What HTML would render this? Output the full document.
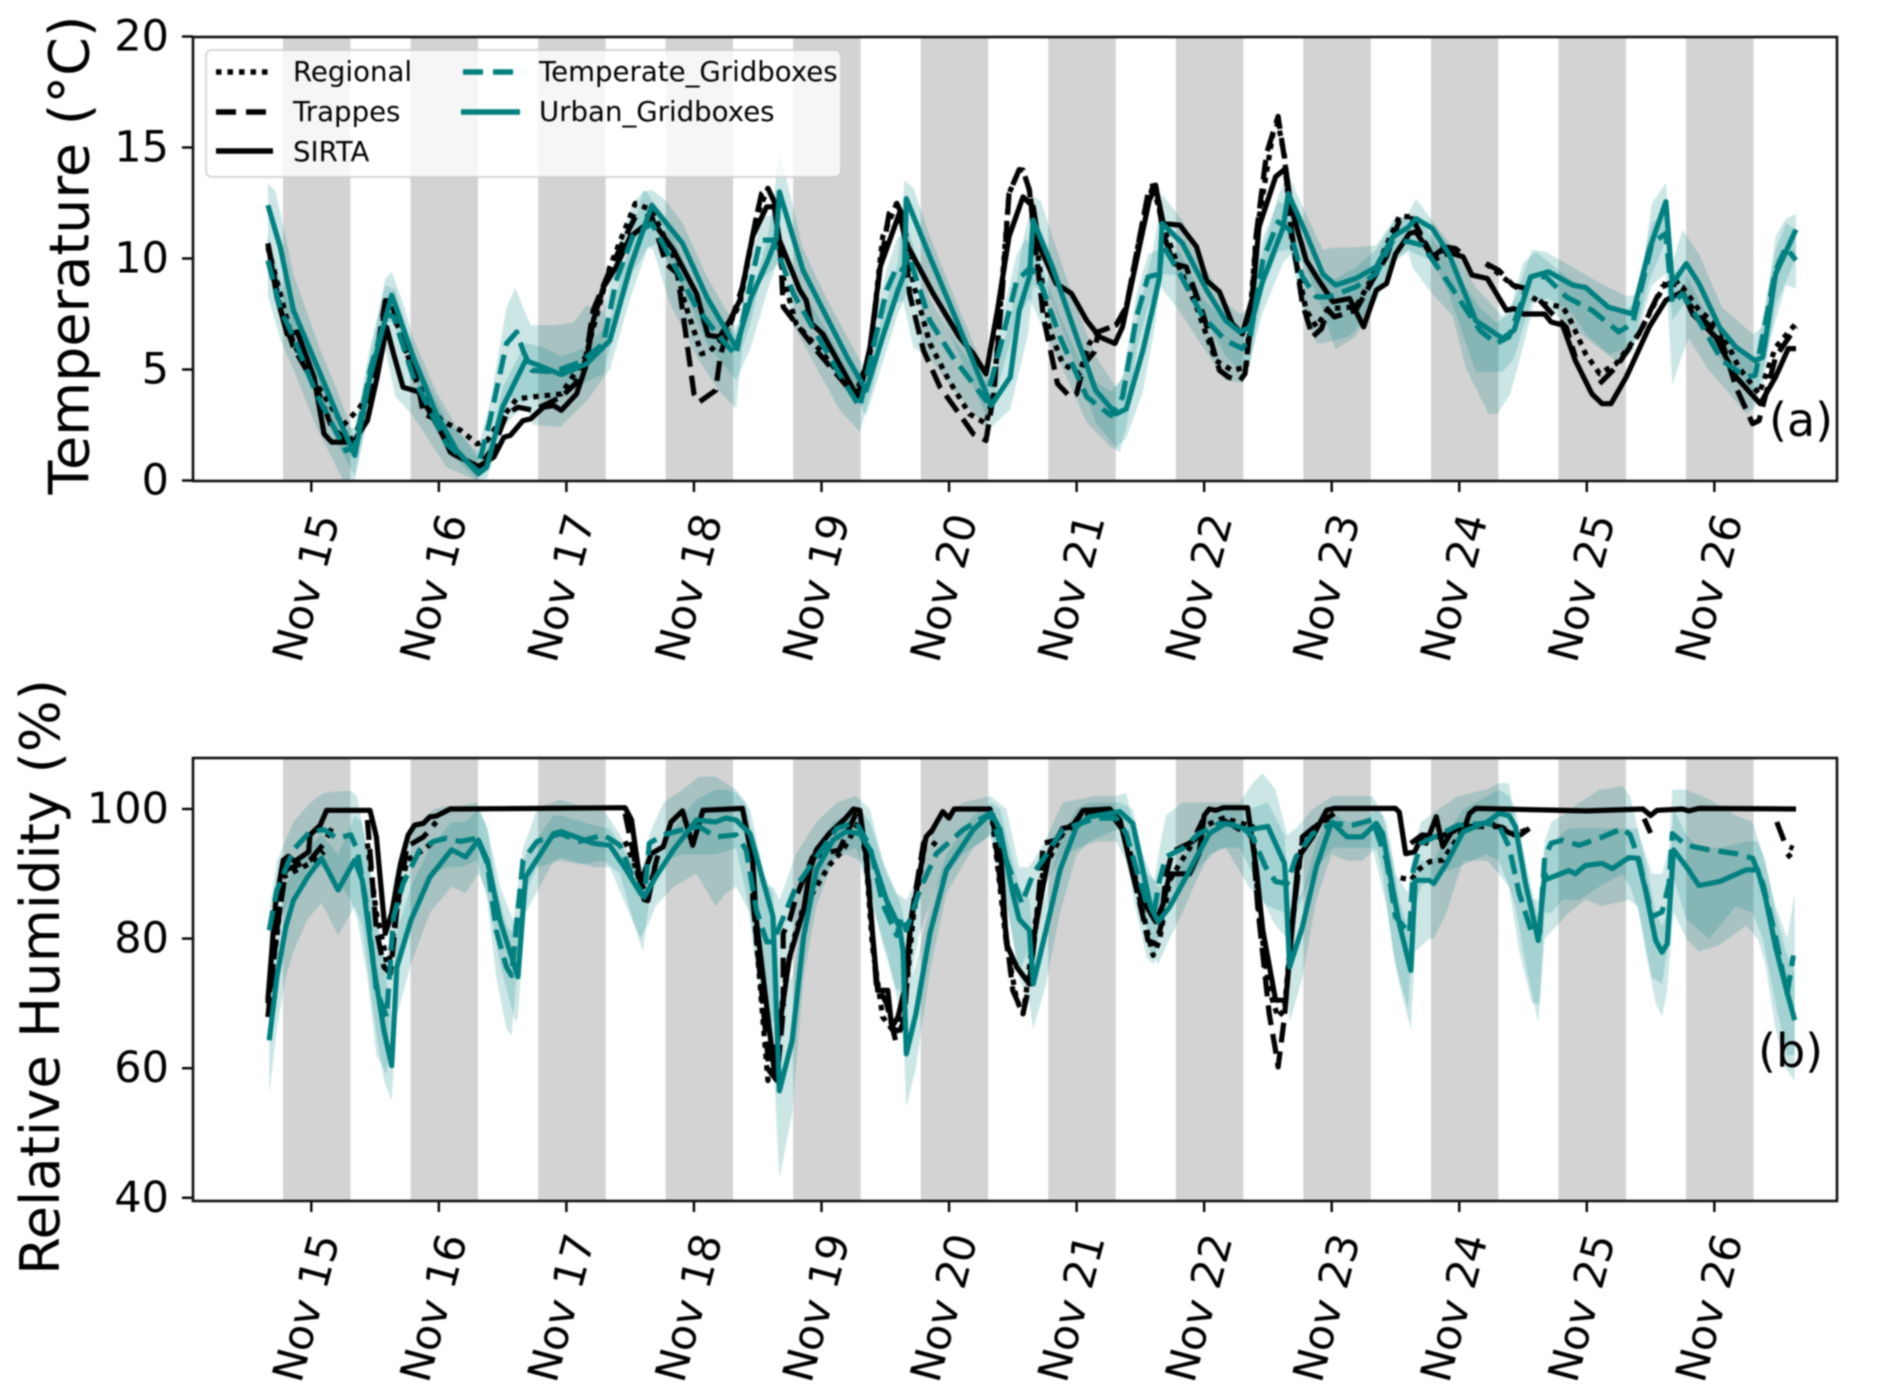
<!DOCTYPE html>
<html lang="en">
<head>
<meta charset="utf-8">
<title>Temperature and relative humidity, Nov 15-26</title>
<style>
html,body{margin:0;padding:0;background:#fff;width:1892px;height:1399px;overflow:hidden}
svg{display:block;filter:blur(0.7px)}
text{font-family:"DejaVu Sans","Liberation Sans",sans-serif;fill:#000}
</style>
</head>
<body>
<svg id="figure" xmlns="http://www.w3.org/2000/svg" width="1892" height="1399" viewBox="0 0 1892 1399">
  <g id="panelA"></g>
  <g id="panelB"></g>
  <g id="legend">
    <rect x="206" y="50" width="635" height="127" rx="6" fill="#fff" fill-opacity="0.8" stroke="#ccc" stroke-opacity="0.8" stroke-width="2"/>
    <line x1="216" y1="72" x2="270" y2="72" stroke="#000" stroke-width="5.4" stroke-dasharray="5.5 6"/>
    <text x="293" y="81" font-size="27.6">Regional</text>
    <line x1="216" y1="112" x2="270" y2="112" stroke="#000" stroke-width="5.4" stroke-dasharray="20 10"/>
    <text x="293" y="121" font-size="27.6">Trappes</text>
    <line x1="216" y1="151" x2="273" y2="151" stroke="#000" stroke-width="5.4"/>
    <text x="293" y="161" font-size="27.6">SIRTA</text>
    <line x1="463" y1="72" x2="518" y2="72" stroke="#008080" stroke-width="5.4" stroke-dasharray="20 10"/>
    <text x="539" y="81" font-size="27.6">Temperate_Gridboxes</text>
    <line x1="461" y1="112" x2="520" y2="112" stroke="#008080" stroke-width="5.4"/>
    <text x="539" y="121" font-size="27.6">Urban_Gridboxes</text>
  </g>
</svg>
<script>
const dayTicks = [15,16,17,18,19,20,21,22,23,24,25,26];
const dayLabels = ['Nov 15','Nov 16','Nov 17','Nov 18','Nov 19','Nov 20','Nov 21','Nov 22','Nov 23','Nov 24','Nov 25','Nov 26'];
const nightCentres = [15,16,17,18,19,20,21,22,23,24,25,26];
const tempTicks = [0,5,10,15,20];
const rhTicks = [40,60,80,100];

const tempRegional = [[14.66,10.5],[14.86,6.17],[15.04,4.36],[15.25,2.48],[15.36,3.16],[15.46,3.9],[15.58,7.82],[15.645,7.5],[15.83,4.36],[16.02,2.7],[16.17,2.26],[16.3,1.65],[16.38,1.8],[16.48,2.7],[16.61,3.68],[16.73,3.76],[16.96,3.9],[17.15,5.56],[17.34,9.62],[17.54,12.48],[17.67,12.18],[17.84,10.08],[17.93,7.97],[18.06,5.71],[18.12,5.79],[18.23,6.47],[18.36,7.97],[18.49,11.88],[18.58,13.16],[18.63,12.56],[18.7,9.17],[18.8,7.07],[18.99,5.86],[19.27,3.9],[19.38,5.71],[19.48,10.98],[19.59,12.48],[19.64,11.88],[19.72,8.87],[19.85,6.17],[20,4.5],[20.16,3],[20.29,2.56],[20.35,3.9],[20.47,12.93],[20.55,14],[20.58,13.98],[20.63,13.08],[20.71,9.62],[20.79,6.77],[20.89,5.26],[21.02,4.81],[21.1,6.17],[21.17,6.7],[21.31,7],[21.39,7.82],[21.52,11.73],[21.6,13.3],[21.68,11.43],[21.78,9.92],[21.94,7.82],[22.09,5.41],[22.22,4.96],[22.33,5.11],[22.41,11.13],[22.54,15.64],[22.58,16.09],[22.63,14.6],[22.69,10.68],[22.8,7.67],[22.88,6.92],[22.97,7.74],[23.19,7.82],[23.32,9.17],[23.53,11.9],[23.63,11.88],[23.79,9.92],[23.97,10.38],null,[24.21,9.77],[24.42,8.8],[24.65,7.97],[24.81,7.82],[24.86,7.37],[24.99,5.71],[25.1,4.81],[25.23,5.26],[25.41,6.62],[25.62,8.95],[25.75,8.72],[25.88,7.67],[26.04,6.92],[26.19,5.11],[26.35,3.9],[26.48,6],[26.64,7.07]];
const tempTrappes = [[14.66,10.68],[14.76,7.67],[14.86,6],[15.04,4.2],[15.16,2.4],[15.28,1.8],[15.34,1.95],[15.46,3.9],[15.58,8.1],[15.63,8.1],[15.68,6.77],[15.83,4.5],[15.88,3],[15.97,2.78],[16.09,1.28],[16.31,0.6],[16.43,1.5],[16.53,3],[16.62,3.3],[16.74,3.16],[16.96,3.76],[17.07,4.36],[17.15,5.41],[17.21,7.67],[17.34,9.47],[17.45,10.83],[17.54,11.88],[17.67,11.88],[17.78,9.77],[17.87,9.32],[17.91,7.67],[18,3.9],[18.04,3.53],[18.17,4.06],[18.21,5.71],[18.31,7.5],[18.38,8.72],[18.49,11.88],[18.53,12.93],[18.58,13.16],[18.63,12.56],[18.68,10.08],[18.7,7.82],[18.8,7.07],[18.96,5.86],[19.25,3.9],[19.31,3.76],[19.38,5.71],[19.46,9.62],[19.53,12.03],[19.59,12.48],[19.64,11.88],[19.69,8.42],[19.8,5.86],[19.93,4.2],[20.08,3],[20.19,2.1],[20.29,1.8],[20.35,3.9],[20.42,8.72],[20.47,12.93],[20.55,14],[20.58,13.98],[20.63,13.08],[20.68,10.38],[20.74,7.37],[20.85,4.36],[20.95,3.76],[21,3.9],[21.06,5.26],[21.14,5.8],[21.17,6.7],[21.31,7],[21.39,7.82],[21.52,11.73],[21.57,13.23],[21.62,13.3],[21.68,11.13],[21.76,9.77],[21.86,9.62],[21.99,7.52],[22.12,4.96],[22.19,4.66],[22.28,4.5],[22.32,4.81],[22.36,6.77],[22.41,11.13],[22.49,14.74],[22.58,16.4],[22.63,14.5],[22.68,11.43],[22.77,7.97],[22.85,6.47],[22.92,6.84],[22.97,7.7],[23.02,7.37],[23.19,7.67],[23.32,9.02],[23.43,10.08],[23.53,11.7],[23.63,11.8],[23.71,10.98],[23.79,10.08],[23.87,10.53],[23.97,10.45],[24.05,10.08],null,[24.21,9.77],[24.31,9.47],[24.42,8.8],[24.52,8.65],null,[24.63,8.12],[24.73,7.5],[24.84,6.9],[24.91,5.56],null,[25.1,4.36],[25.23,5.11],[25.41,6.62],[25.59,8.72],[25.7,9.02],[25.78,8.12],[25.88,7.37],[26.04,6.62],[26.17,4.2],[26.3,2.56],[26.35,2.7],[26.48,5.56],[26.64,6.92]];
const tempSirta = [[14.66,10.68],[14.73,8.27],[14.81,6.6],[14.89,6.69],[15.02,4.66],[15.1,2.1],[15.16,1.73],[15.33,1.73],[15.44,2.7],[15.51,4.5],[15.59,6.9],[15.645,5.7],[15.72,4.2],[15.84,4],[15.98,2.55],[16.11,1.2],[16.31,0.63],[16.43,1.05],[16.51,1.95],[16.56,2.03],[16.66,2.7],[16.72,2.78],[16.82,3.3],[16.9,3.38],[16.96,3.16],[17.08,3.9],[17.15,5.1],[17.21,7.2],[17.29,8.7],[17.39,9.62],[17.5,10.98],[17.67,11.73],[17.84,10.38],[18.02,8.42],[18.11,6.54],[18.2,6.47],[18.28,7.2],[18.36,8.12],[18.46,11],[18.57,12.33],[18.63,12.33],[18.67,10.83],[18.83,8.57],[18.88,8.12],[18.92,7.07],[19.01,6.6],[19.27,3.9],[19.31,4.2],[19.38,6],[19.46,9.62],[19.61,12.03],[19.665,10.68],[19.875,8.42],[20.08,6.47],[20.19,5.71],[20.29,4.8],[20.38,7.67],[20.47,10.98],[20.58,12.78],[20.66,12.33],[20.71,10.53],[20.84,8.87],[20.96,8.42],[21.08,7.2],[21.18,6.47],[21.3,6.17],[21.36,6.92],[21.47,9.92],[21.57,12.63],[21.62,13.23],[21.68,11.58],[21.81,11.5],[21.94,10.53],[22.02,9],[22.12,8.5],[22.22,7.07],[22.3,6.6],[22.38,8.27],[22.43,11.43],[22.56,13.68],[22.64,14.06],[22.68,12.33],[22.8,9.92],[22.9,9],[23.01,8.05],[23.14,8.2],[23.25,6.92],[23.35,8.57],[23.43,8.87],[23.5,10.2],[23.61,11.13],[23.66,11.2],[23.79,10.08],[23.86,10.38],[24.03,10.08],[24.1,9.25],[24.22,9.1],[24.37,7.67],[24.43,7.74],[24.5,7.5],[24.67,7.5],[24.72,7.14],[24.81,7],[24.91,5.41],[25.04,3.9],[25.12,3.46],[25.19,3.46],[25.31,4.66],[25.49,6.92],[25.62,8.12],[25.75,8.5],[25.83,7.5],[26.01,6.47],[26.17,4.66],[26.36,3.46],[26.48,4.66],[26.58,5.94],[26.64,5.94]];
const tempTemperate = [[14.66,9.92],[14.76,7.67],[14.86,6.47],[15.04,3.9],[15.27,1.35],[15.34,1.5],[15.46,4.96],[15.59,7.5],[15.645,7.37],[15.8,4.66],[16.06,1.65],[16.3,0.45],[16.4,2.7],[16.53,6.17],[16.61,6.69],[16.66,5.86],[16.73,4.96],[16.9,4.89],[17.11,5.34],[17.29,6.17],[17.39,9],[17.52,11],[17.67,11.58],[17.81,10.08],[18.02,7.8],[18.2,6.47],[18.33,5.64],[18.41,7.97],[18.52,10.83],[18.62,10.83],[18.67,10.08],[18.78,8.42],[18.93,6.9],[19.14,4.8],[19.3,3.3],[19.4,5.86],[19.51,8.57],[19.59,9.62],[19.64,9.47],[19.68,10.2],[19.85,7.2],[20.03,5.56],[20.29,3.6],[20.4,6],[20.53,9],[20.64,9.6],[20.71,9],[20.87,6.47],[21.08,3.76],[21.27,2.93],[21.36,3.76],[21.47,7.37],[21.56,9.17],[21.65,9.3],[21.67,10.68],[21.81,9.3],[21.99,7.37],[22.17,6.3],[22.3,5.94],[22.36,6.47],[22.46,9.92],[22.58,11.65],[22.67,11.3],[22.77,9.17],[22.88,8.27],[22.98,8.27],[23.19,8.72],[23.35,9.32],[23.48,10.83],[23.61,10.75],[23.71,10.6],[23.92,8.87],[24.16,6.77],[24.29,6.17],[24.39,6.47],[24.56,9.17],[24.68,9.17],[24.84,8.27],[25.04,7.67],[25.25,6.7],[25.36,7.07],[25.51,10.68],[25.62,11.13],[25.67,7.97],[25.75,8.42],[25.88,7.2],[26.06,5.41],[26.25,4.66],[26.32,4.74],[26.48,9.47],[26.56,10.5],[26.64,9.92]];
const tempUrban = [[14.66,12.4],[14.757,10.5],[14.86,7.67],[15.07,4.81],[15.2,3],[15.34,1.13],[15.46,4.66],[15.63,8.35],[15.8,5.56],[15.98,3],[16.14,1.35],[16.31,0.3],[16.375,0.6],[16.5,3.3],[16.68,5.41],[16.82,5.1],[16.96,4.77],[17.16,5.26],[17.34,6.3],[17.5,9.6],[17.67,12.4],[17.91,10.68],[18.1,8.27],[18.33,6],[18.45,8.27],[18.58,9.92],[18.645,10.9],[18.67,13],[18.855,9.47],[19.04,7.37],[19.2,5.56],[19.35,4.06],[19.48,6.47],[19.6,8.57],[19.65,9.32],[19.665,12.7],[19.85,10.07],[20.06,7.2],[20.33,3.38],[20.48,4.66],[20.55,7.67],[20.63,9.17],[20.66,11.73],[20.81,9.62],[21,6.47],[21.15,4.06],[21.31,3],[21.39,3.23],[21.52,5.86],[21.61,8.1],[21.65,9.17],[21.67,11.58],[21.83,10.68],[22.02,8.57],[22.17,7.2],[22.28,6.7],[22.36,6.9],[22.46,9],[22.62,11.4],[22.66,12.93],[22.8,11.1],[22.93,9.3],[23.03,8.8],[23.19,9.1],[23.35,9.62],[23.48,10.98],[23.6,11.4],[23.66,11.8],[23.79,11.35],[23.92,10.2],[24.13,7.2],[24.34,6.4],[24.43,6.77],[24.56,9.17],[24.7,9.4],[24.89,8.8],[24.99,8.7],[25.17,7.8],[25.36,7.5],[25.49,10.4],[25.62,12.56],[25.67,8.87],[25.78,9.77],[25.88,8.87],[26.04,6.9],[26.17,6],[26.32,5.4],[26.38,5.56],[26.48,9.3],[26.64,11.3]];

const tempUrbanUpper = [[14.66,13.4],[14.72,13],[14.78,11.5],[14.86,9.3],[15.07,5.9],[15.2,4.1],[15.34,2],[15.46,5.6],[15.58,9.1],[15.63,9.4],[15.72,8],[15.8,6.4],[15.98,4],[16.14,2.4],[16.31,1],[16.4,1.7],[16.5,4.2],[16.68,6.2],[16.82,6],[16.96,5.6],[17.16,6],[17.34,7.2],[17.5,10.8],[17.6,13],[17.67,13.1],[17.78,12.6],[17.91,11.6],[18.1,9.2],[18.33,6.9],[18.44,8],[18.58,11],[18.62,12.5],[18.67,14.9],[18.75,13],[18.85,10.5],[19.04,8.2],[19.2,6.5],[19.35,4.9],[19.48,7.5],[19.6,9.8],[19.65,13.5],[19.72,13.2],[19.85,11],[20.06,8],[20.33,4.3],[20.48,7.2],[20.58,10.8],[20.66,12.8],[20.72,12.6],[20.81,11],[21,7.8],[21.15,5.6],[21.31,4.2],[21.39,5],[21.5,8],[21.6,10.4],[21.67,12.9],[21.83,11.7],[22.02,9.5],[22.17,8],[22.28,7.5],[22.36,7.8],[22.46,10.3],[22.58,12.8],[22.66,13.8],[22.8,12],[22.93,10.4],[23.03,10.5],[23.19,10.5],[23.35,10.6],[23.48,11.7],[23.6,12],[23.66,12.7],[23.79,11.7],[23.95,10.5],[24.13,8.7],[24.34,7.4],[24.43,8.1],[24.57,10.4],[24.68,10.3],[24.89,9.6],[25.1,8.9],[25.31,8.3],[25.41,8.4],[25.51,12.5],[25.62,13.4],[25.67,9.8],[25.75,11.3],[25.88,10.2],[26.06,7.8],[26.3,6.6],[26.38,6.9],[26.48,11],[26.56,11.8],[26.64,12]];
const tempUrbanLower = [[14.66,9.6],[14.76,7.6],[14.86,6],[15.07,3.6],[15.2,1.7],[15.34,0.2],[15.46,3.4],[15.58,7.1],[15.64,7.2],[15.8,4.7],[15.98,2.3],[16.14,0.9],[16.31,0],[16.38,0.1],[16.5,2.4],[16.68,3.4],[16.74,2.5],[16.95,2.4],[17.16,3.6],[17.34,5],[17.5,8.2],[17.64,10.5],[17.72,10.7],[17.91,8.7],[18.1,6.2],[18.33,4.5],[18.44,5.9],[18.58,8.6],[18.645,9.7],[18.72,10.4],[18.855,8],[19.04,5.9],[19.2,4.4],[19.35,2.9],[19.48,5.3],[19.6,7.5],[19.65,8.2],[19.72,9.6],[19.85,8.6],[20.06,5.9],[20.33,2.4],[20.48,3.2],[20.62,6.6],[20.66,8.8],[20.81,8.1],[21,5],[21.15,2.6],[21.31,1.5],[21.39,1.9],[21.52,4],[21.61,6.8],[21.67,9.3],[21.83,9.2],[22.02,7.2],[22.17,5.6],[22.28,5],[22.36,5.4],[22.46,7.6],[22.62,9.8],[22.7,10.3],[22.8,9.6],[22.93,7.6],[23.03,5.9],[23.19,6.5],[23.3,7.7],[23.48,9.9],[23.6,10.4],[23.66,10.2],[23.79,9.9],[23.92,8.4],[24.13,4.9],[24.34,4.9],[24.43,5.5],[24.56,8],[24.7,8.2],[24.89,7.5],[24.99,6.6],[25.17,5.7],[25.36,6],[25.49,9],[25.62,10.8],[25.67,7.2],[25.78,8.1],[25.88,7.5],[26.04,5.5],[26.17,4.7],[26.32,3.9],[26.38,4.2],[26.48,7.9],[26.64,10]];
const tempTemperateUpper = [[14.66,11.1],[14.76,9],[14.86,7.4],[15.04,4.9],[15.27,2.3],[15.34,2.4],[15.46,6],[15.58,8.8],[15.66,8.6],[15.8,5.8],[16.06,2.7],[16.3,1.3],[16.4,3.5],[16.53,7.8],[16.6,8.7],[16.66,7.8],[16.72,7],[16.9,7],[17.05,7.1],[17.16,7.9],[17.29,7.6],[17.39,10.2],[17.52,12.5],[17.62,13.1],[17.8,11.4],[18.02,8.6],[18.2,7.4],[18.33,6.6],[18.41,8.9],[18.52,11.8],[18.62,12],[18.67,11],[18.78,9.4],[18.93,7.8],[19.14,5.8],[19.3,4.4],[19.4,6.8],[19.51,9.5],[19.59,10.9],[19.68,11.3],[19.85,8.2],[20.03,6.4],[20.29,4.4],[20.4,7],[20.53,10.2],[20.6,10.9],[20.7,10],[20.87,7.4],[21.08,4.7],[21.27,4],[21.36,4.6],[21.47,8.4],[21.56,10.2],[21.65,10.4],[21.81,10.3],[21.99,8.2],[22.17,7.2],[22.3,6.8],[22.46,10.9],[22.58,12.6],[22.67,12.3],[22.77,10.2],[22.88,9.3],[23,9],[23.19,9.6],[23.35,10.4],[23.48,11.6],[23.6,11.9],[23.71,11.6],[23.92,9.8],[24.16,7.8],[24.29,7.1],[24.39,7.5],[24.5,9.8],[24.6,10.3],[24.84,9.2],[25.04,8.4],[25.25,7.5],[25.36,7.9],[25.51,11.6],[25.62,12.1],[25.67,9.3],[25.75,9.6],[25.88,8.1],[26.06,6.3],[26.25,5.6],[26.32,5.6],[26.48,10.4],[26.56,11.6],[26.64,11.3]];
const tempTemperateLower = [[14.66,8.3],[14.76,6.3],[14.86,5],[15.04,2.4],[15.25,0],[15.34,0],[15.46,3.3],[15.58,5.9],[15.66,3.76],[15.8,2.9],[16.06,0.6],[16.3,0],[16.4,1],[16.53,3.8],[16.66,3.5],[16.74,3.76],[16.9,3.6],[17.11,4.3],[17.29,4.8],[17.39,7],[17.52,9.4],[17.64,10.5],[17.68,10.4],[17.81,8],[18.02,5.6],[18.2,4],[18.33,3.23],[18.38,6],[18.44,7],[18.52,9],[18.62,9.5],[18.67,9.9],[18.78,7],[18.93,5.4],[19.14,3.2],[19.3,2.18],[19.4,4.2],[19.51,7],[19.59,8],[19.64,8.1],[19.72,6],[19.85,5.5],[20.03,4.1],[20.29,2.4],[20.4,4.6],[20.53,7.2],[20.63,8.2],[20.75,6.7],[20.87,5.3],[21.08,2.6],[21.27,1.5],[21.34,1.28],[21.4,2.7],[21.47,5.9],[21.56,7.8],[21.65,8.8],[21.81,7.6],[21.99,6],[22.17,4.5],[22.3,4.4],[22.36,5.2],[22.46,8.6],[22.58,10.3],[22.67,10.4],[22.77,7.7],[22.88,6.2],[22.93,6.17],[23.14,6.5],[23.25,7.2],[23.35,8.1],[23.48,9.8],[23.6,10.3],[23.63,9.6],[23.79,8.4],[23.95,7.4],[24.05,5.1],[24.23,3],[24.3,3],[24.4,3.9],[24.5,6],[24.6,8.3],[24.68,7.8],[24.84,7.1],[25.04,6.2],[25.25,5.3],[25.36,5.8],[25.51,8.8],[25.62,9.3],[25.67,4.29],[25.75,5.7],[25.8,6.4],[25.95,5],[26.06,4.3],[26.25,3],[26.32,3.3],[26.42,6],[26.56,8.8],[26.64,8.65]];

const rhRegional = [[14.66,70],[14.73,80.3],[14.78,89.5],[14.99,91.6],[15.1,93.4],null,[15.44,94.7],[15.51,83.9],[15.57,78.7],[15.6,75.1],[15.67,84.4],[15.75,92.1],[15.88,93.7],[15.96,95],null,[17.46,95],[17.55,90.6],[17.62,85.2],[17.7,91.6],null,[18.46,87],[18.58,58.1],[18.66,64.8],[18.72,74.1],[18.78,79.7],[18.85,84.4],[19.06,91.3],[19.17,93.7],[19.3,98.3],[19.35,92.1],[19.4,78.7],[19.48,67.9],[19.58,65.3],[19.65,69],[19.72,83.4],[19.82,95.7],[19.9,94.4],null,[20.34,98.3],[20.45,79.2],[20.53,70.5],[20.58,68.4],[20.6,71],[20.66,80.3],[20.74,90.6],[20.89,96.2],[21.05,99.3],[21.26,99.3],[21.39,96.2],[21.49,86.4],[21.6,77.4],[21.65,79.7],[21.73,89],[21.81,91.6],[21.91,94.7],[21.99,97.3],[22.15,98.6],[22.38,97.3],[22.43,83.9],[22.51,72],[22.58,67.9],[22.63,69],[22.69,82.8],[22.77,95.2],[22.9,97.8],[23.02,98.8],null,[23.54,89.4],[23.62,89],[23.69,90.8],[23.77,91.9],[23.87,92.1],[24.03,96.8],[24.18,97.8],[24.31,97.5],[24.43,96],[24.55,97],null,[26.57,92.5],[26.62,93.4]];
const rhTrappes = [[14.66,67.9],[14.73,81.3],[14.8,90.6],[14.99,92.1],[15.1,94.7],[15.16,97],null,[15.44,98.3],[15.51,81.3],[15.57,75.6],[15.62,74.6],[15.67,84.4],[15.75,94.2],[15.88,95.7],[15.98,98],null,[17.46,99.3],[17.55,90.6],[17.64,85.9],[17.7,91.6],[17.73,93.7],[17.76,94.2],null,[18.46,86.4],[18.59,59.6],[18.65,58.1],[18.7,68.9],[18.7,80.8],[18.75,82.8],[18.8,86.4],[18.93,92.6],[19.14,93.7],[19.27,99.3],[19.35,93.7],[19.43,73],[19.51,70],[19.58,64.3],[19.65,67.4],[19.7,82.8],[19.8,94.7],[19.87,96.8],null,[20.34,99.3],[20.45,80.3],[20.5,72],[20.58,68.4],[20.63,73],[20.68,81.8],[20.74,94.7],[20.84,95.2],[20.95,97],[21.05,99.6],[21.26,99.6],[21.36,96.8],[21.44,90],[21.52,83.4],[21.56,79.7],[21.62,79.2],[21.66,81.8],[21.7,89.5],[21.75,93.4],[21.91,95],[21.99,98.3],null,[22.15,98.3],[22.38,95.7],[22.42,84.9],[22.51,68.4],[22.56,62.7],[22.58,60.2],[22.63,67.9],[22.68,80.3],[22.77,95.7],[22.9,97.8],[23.02,99.3],null,[23.62,94.7],[23.71,96],[23.84,95.7],[24.05,97.3],[24.31,97.3],[24.42,96],[24.48,96],[24.55,97],null,[25.45,98.5],[25.5,96.3],null,[26.49,98],[26.56,94.4],[26.62,93.9]];
const rhSirta = [[14.66,70.5],[14.72,85.4],[14.78,92.1],[14.82,92.7],[14.87,91.9],[14.98,93.4],[14.99,96],[15.07,97.5],[15.12,99.8],[15.46,99.8],[15.51,95.7],[15.58,80.8],[15.63,83.9],[15.7,91.6],[15.76,96],[15.81,97.5],[15.88,97.8],[15.93,98.8],[15.98,98.9],[16.09,100],[17.46,100.2],[17.51,98.3],[17.58,88.5],[17.665,93.1],[17.76,94.2],[17.82,98],[17.91,99.7],[17.99,94.4],[18.07,99.8],[18.38,100.1],[18.46,92.1],[18.49,82.8],[18.63,59.6],[18.67,66.3],[18.75,77.2],[18.86,84.4],[18.91,90.6],[18.96,93.7],[19.06,96.2],[19.19,98.6],[19.25,100],[19.3,99.8],[19.35,92.6],[19.4,80.8],[19.44,72],[19.52,72],[19.55,66.3],[19.6,67.9],[19.65,72],[19.7,82.3],[19.82,95.7],[19.87,96.8],[19.95,99.6],[20,98.6],[20.04,100],[20.32,100],[20.4,94.7],[20.45,79.2],[20.53,75.6],[20.63,73],[20.67,80.7],[20.74,88.4],[20.79,93.5],[20.89,97],[20.97,97.3],[21.05,99.8],[21.26,100],[21.34,98.3],[21.44,90],[21.52,85.9],[21.62,82.6],[21.68,85.4],[21.73,90],[21.885,90],[21.96,93.1],[22,99],[22.04,100],[22.09,99.8],[22.15,100.2],[22.34,100.2],[22.41,90.6],[22.46,81.3],[22.56,70.5],[22.64,70.5],[22.69,81.8],[22.74,92.6],[22.85,95.7],[22.96,99.8],[23.02,100.1],[23.5,100.1],[23.53,99.5],[23.58,93.1],[23.65,93.4],[23.7,95.5],[23.74,94.7],[23.82,98.8],[23.87,94.2],[23.95,96.8],[24.04,97],[24.08,99.3],[24.13,100.1],[25,99.7],[25.44,100],[25.5,99],[25.55,99.8],[25.75,100],[25.8,99.7],[25.88,100.1],[26.64,100]];
const rhTemperate = [[14.67,81.3],[14.73,87.5],[14.86,93.7],[14.99,96.5],[15.1,96.8],[15.2,95.5],[15.31,96],[15.36,93.7],[15.44,84.4],[15.51,72],[15.59,67.9],[15.645,83.4],[15.72,88.5],[15.85,93.7],[15.96,95],[16.06,95.5],[16.17,95],[16.3,95.5],[16.38,91.6],[16.45,81.3],[16.53,75.6],[16.57,74.3],[16.66,92.1],[16.77,95],[16.95,96.2],[17.11,95],[17.29,96],[17.42,94.4],[17.52,89.5],[17.61,86.4],[17.65,94.7],[17.76,96],[17.91,96.8],[18.04,97.3],[18.17,95.7],[18.33,96],[18.41,93.7],[18.49,84.4],[18.57,79.5],[18.62,79.5],[18.67,81.8],[18.8,88],[18.96,92.6],[19.12,97],[19.27,98],[19.38,94.2],[19.48,85.4],[19.59,80.5],[19.63,83.4],[19.665,81.3],[19.77,87.5],[19.9,93.1],[20.11,96.8],[20.32,99.3],[20.45,92.1],[20.57,85.4],[20.66,90],[20.75,92.6],[20.89,96.8],[21.15,98.6],[21.31,98.6],[21.39,96.2],[21.47,90.6],[21.55,85.4],[21.61,84.4],[21.65,89],[21.7,92.6],[21.83,93.9],[21.96,96.2],[22.12,97.8],[22.28,97.5],[22.38,95.7],[22.48,91.1],[22.56,88.8],[22.65,88.5],[22.72,92.6],[22.85,96.2],[23.01,97.8],[23.16,97.5],[23.32,98.3],[23.43,92.1],[23.5,83.4],[23.61,80.8],[23.64,90.6],[23.7,94.7],[23.84,96],[23.99,97.5],[24.21,97.8],[24.31,97.5],[24.39,94.2],[24.47,87],[24.57,80.8],[24.63,80.8],[24.67,92.6],[24.72,94.7],[24.81,95.2],[24.94,94.4],[25.1,95.5],[25.28,97],[25.34,96],[25.41,92.1],[25.51,83.4],[25.59,84.1],[25.645,88.5],[25.67,96.2],[25.78,94.4],[25.96,93.7],[26.17,93.1],[26.3,92.4],[26.38,88.5],[26.48,80.3],[26.57,71.5],[26.62,77.4]];
const rhUrban = [[14.67,64.3],[14.73,74.1],[14.8,81.8],[14.86,85.9],[14.97,89.5],[15.08,92.4],[15.21,87.5],[15.34,92.1],[15.4,89],[15.49,75.6],[15.57,65.8],[15.63,60.4],[15.67,75.6],[15.78,82.8],[15.93,89.5],[16.1,93.7],[16.21,92.6],[16.31,95.2],[16.38,92.1],[16.48,82.8],[16.62,74.1],[16.68,89.5],[16.9,96.2],[16.96,96.5],[17.21,94.7],[17.34,94.4],[17.47,90.6],[17.58,87],[17.61,86.4],[17.7,89.5],[17.84,93.7],[18.02,98.3],[18.17,98],[18.25,98.6],[18.33,98.3],[18.44,96.2],[18.62,83.4],[18.67,56.5],[18.77,64.3],[18.86,80.3],[18.96,90.6],[19.09,95.2],[19.19,96.5],[19.3,96.2],[19.38,93.7],[19.51,85.9],[19.61,81.8],[19.64,78.2],[19.665,62.2],[19.74,68.4],[19.85,80.8],[19.98,90.6],[20.19,96.8],[20.33,99.4],[20.4,96.8],[20.5,87],[20.55,83],[20.63,81.3],[20.66,73],[20.76,81.3],[20.87,90.6],[21,97.3],[21.1,98.8],[21.34,99.6],[21.44,97.8],[21.52,90.6],[21.58,84.9],[21.64,82.6],[21.73,84.9],[21.83,88.5],[21.94,92.6],[22.04,96.2],[22.17,97.8],[22.35,96.8],[22.5,97.3],[22.63,91.6],[22.64,88.5],[22.67,75.6],[22.77,81.8],[22.88,91.1],[23,98],[23.12,95.7],[23.24,95.7],[23.35,97.8],[23.4,96.2],[23.48,87.5],[23.53,82.3],[23.62,75.1],[23.655,89],[23.765,89],[23.8,88.5],[23.9,91.6],[24.03,96.5],[24.22,98],[24.31,99.3],[24.39,99],[24.44,97.3],[24.52,88.5],[24.62,79.7],[24.67,90],[24.69,89.2],[24.86,90.5],[24.91,90],[24.99,91.3],[25.12,91.6],[25.2,90.8],[25.33,92.5],[25.4,92.4],[25.46,87.5],[25.54,79.7],[25.59,77.9],[25.63,79.2],[25.68,93.7],[25.78,91.1],[25.88,88.2],[26.04,88.8],[26.25,90.6],[26.34,90.6],[26.4,86.4],[26.48,78.7],[26.56,72.5],[26.63,67.4]];

const rhUrbanUpper = [[14.67,73],[14.73,81],[14.8,88],[14.86,91],[14.97,94],[15.08,96],[15.21,93],[15.34,99],[15.4,98],[15.49,88],[15.57,76],[15.63,68],[15.67,81],[15.78,88],[15.93,94],[16.1,98],[16.21,98],[16.31,100],[16.38,97],[16.48,88],[16.62,81],[16.68,93],[16.9,99],[16.96,99],[17.21,97.5],[17.34,97],[17.47,93],[17.58,90],[17.64,92],[17.7,93],[17.84,97],[18.02,101.5],[18.17,103],[18.25,103],[18.33,102.5],[18.44,100],[18.55,90],[18.62,87],[18.67,72],[18.77,74],[18.86,84],[18.96,94],[19.09,98],[19.19,99],[19.3,100],[19.38,98],[19.51,90],[19.61,86],[19.64,84],[19.665,72],[19.74,76],[19.85,85],[19.98,93],[20.19,99],[20.33,101],[20.4,100],[20.5,92],[20.55,88],[20.63,86],[20.66,80],[20.76,87],[20.87,95],[21,100],[21.1,101],[21.34,101],[21.44,100],[21.52,93],[21.58,90],[21.64,88],[21.73,88],[21.83,92],[21.94,96],[22.04,99],[22.17,100],[22.35,100],[22.5,101],[22.63,96],[22.67,85],[22.77,87],[22.88,95],[23,99.5],[23.12,98],[23.24,98],[23.35,100],[23.4,99],[23.48,92],[23.53,86],[23.62,80],[23.655,92],[23.765,92],[23.8,92],[23.9,96],[24.03,100],[24.22,102],[24.31,103],[24.39,102],[24.44,100],[24.52,92],[24.62,83],[24.67,94],[24.86,97],[24.99,97],[25.12,97],[25.33,97],[25.4,97],[25.46,92],[25.54,84],[25.59,82],[25.63,84],[25.68,100],[25.78,96],[25.88,94],[26.04,94],[26.25,95],[26.34,95],[26.4,92],[26.48,84],[26.56,78],[26.63,75]];
const rhUrbanLower = [[14.67,56],[14.73,66],[14.8,74],[14.86,78],[14.97,83],[15.08,85.5],[15.21,80.5],[15.34,85],[15.4,82],[15.49,68],[15.57,58],[15.63,55],[15.67,68],[15.78,76],[15.93,84],[16.1,88],[16.21,87],[16.31,90],[16.38,87],[16.48,76],[16.6,67],[16.62,68],[16.68,84],[16.9,92],[16.96,92.5],[17.21,91],[17.34,91],[17.47,85],[17.58,80],[17.66,83],[17.7,85],[17.84,88],[18.02,90],[18.17,85],[18.25,87],[18.33,88],[18.44,84],[18.55,72],[18.62,62],[18.67,43],[18.77,53],[18.86,74],[18.96,85],[19.09,92],[19.19,93],[19.3,92],[19.38,86],[19.51,78],[19.61,69],[19.64,66],[19.665,54],[19.74,60],[19.85,75],[19.98,87],[20.19,94],[20.33,96],[20.4,92],[20.5,80],[20.55,74],[20.63,70],[20.66,66],[20.76,73],[20.87,84],[21,93],[21.1,95],[21.34,97],[21.44,93],[21.52,85],[21.58,78],[21.64,76],[21.73,80],[21.83,84],[21.94,89],[22.04,93],[22.17,94],[22.35,88],[22.5,85],[22.63,84],[22.67,67],[22.77,74],[22.88,86],[23,93],[23.12,92],[23.24,92],[23.35,94],[23.4,90],[23.48,78],[23.53,73],[23.62,66],[23.655,78],[23.765,80],[23.8,80],[23.9,84],[24.03,92],[24.22,92],[24.31,90],[24.39,88],[24.44,85],[24.52,76],[24.62,67],[24.67,80],[24.86,84],[24.99,86],[25.12,85],[25.33,86],[25.4,85],[25.46,78],[25.54,70],[25.59,68],[25.63,72],[25.68,84],[25.78,80],[25.88,78],[26.04,79],[26.25,82],[26.34,80],[26.4,76],[26.48,66],[26.56,60],[26.63,58]];
const rhTemperateUpper = [[14.67,84],[14.73,92],[14.86,98],[14.99,101],[15.1,102.5],[15.2,102.7],[15.31,102.8],[15.36,102],[15.44,93],[15.51,82],[15.59,76],[15.645,89],[15.72,95],[15.85,98],[15.96,100],[16.06,100.5],[16.17,100.5],[16.3,101],[16.38,97],[16.45,88],[16.53,82],[16.57,81],[16.66,94],[16.77,100],[16.95,101.5],[17.11,100.5],[17.29,100],[17.42,96],[17.52,92],[17.6,91],[17.65,96],[17.76,101],[17.91,103],[18.04,105],[18.17,105],[18.33,103],[18.41,101],[18.49,92],[18.57,88],[18.62,88],[18.67,86],[18.8,93],[18.96,98],[19.12,101],[19.27,102],[19.38,100],[19.48,92],[19.59,87],[19.665,86],[19.77,90],[19.9,98],[20.11,101],[20.32,102],[20.45,100],[20.55,91],[20.62,91],[20.66,92],[20.75,95],[20.89,101],[21.15,102],[21.31,102],[21.39,102.5],[21.47,95],[21.55,90],[21.61,89],[21.65,94],[21.7,99],[21.83,101],[21.96,101],[22.12,101],[22.28,101],[22.38,104],[22.46,105.5],[22.56,103],[22.65,96],[22.72,97],[22.85,100],[23.01,102],[23.16,102],[23.32,102],[23.43,98],[23.5,90],[23.6,87],[23.64,94],[23.7,98],[23.84,100],[23.99,102],[24.21,103],[24.31,104],[24.39,104],[24.47,94],[24.57,86],[24.63,86],[24.67,95],[24.72,98],[24.81,99],[24.94,101],[25.1,103],[25.28,103.5],[25.34,102],[25.41,96],[25.51,90],[25.59,90],[25.645,94],[25.67,103],[25.78,103],[25.96,101.5],[26.17,99],[26.3,98],[26.38,93],[26.48,85],[26.57,80],[26.63,87]];
const rhTemperateLower = [[14.67,76],[14.73,82],[14.86,87],[14.99,91],[15.1,91],[15.2,89],[15.31,86],[15.36,83],[15.44,74],[15.51,62],[15.59,59],[15.645,75],[15.72,80],[15.85,87],[15.96,90],[16.06,91],[16.17,91],[16.3,92],[16.38,86],[16.45,74],[16.53,66],[16.57,65],[16.66,86],[16.77,91],[16.95,92],[17.11,91.5],[17.29,92],[17.42,90],[17.52,83],[17.6,78],[17.65,86],[17.76,92],[17.91,93],[18.04,93],[18.17,93],[18.33,94],[18.41,87],[18.49,75],[18.57,68],[18.62,67],[18.67,72],[18.8,82],[18.96,88],[19.12,93],[19.27,94],[19.38,88],[19.48,79],[19.59,72],[19.63,72],[19.665,70],[19.77,81],[19.9,88],[20.11,93],[20.32,96],[20.45,85],[20.55,75],[20.62,78],[20.66,83],[20.75,88],[20.89,93],[21.15,95],[21.31,95],[21.39,92],[21.47,84],[21.55,77],[21.61,76],[21.65,82],[21.7,85],[21.83,88],[21.96,91],[22.12,94],[22.28,94],[22.38,90],[22.48,85],[22.56,82],[22.65,80],[22.72,84],[22.85,90],[23.01,94],[23.16,94],[23.32,94],[23.43,85],[23.5,76],[23.6,69],[23.64,84],[23.7,88],[23.84,90],[23.99,91],[24.21,93],[24.31,92],[24.39,88],[24.47,78],[24.57,70],[24.63,70],[24.67,84],[24.72,84],[24.81,86],[24.94,86],[25.1,88],[25.28,90],[25.34,88],[25.41,84],[25.51,74],[25.59,73],[25.645,80],[25.67,90],[25.78,83],[25.96,80],[26.17,85],[26.3,84],[26.38,80],[26.48,70],[26.57,62],[26.63,62]];

const SVGNS = 'http://www.w3.org/2000/svg';
const plotLeft = 193, plotRight = 1837;
function xScale(day){ return 311.3 + 127.55 * (day - 15); }
function yTemp(v){ return 480.5 - 22.2 * v; }
function yRh(v){ return 809 + (100 - v) * 6.48; }

function make(parent, tag, attrs){
  const el = document.createElementNS(SVGNS, tag);
  for (const k in attrs) el.setAttribute(k, attrs[k]);
  parent.appendChild(el);
  return el;
}
function linePath(series, yFn){
  let d = '', pen = false;
  series.forEach(function(p){
    if (!p) { pen = false; return; }
    d += (pen ? 'L' : 'M') + xScale(p[0]).toFixed(1) + ' ' + yFn(p[1]).toFixed(1);
    pen = true;
  });
  return d;
}
function bandPath(upper, lower, yFn){
  const a = upper.map(function(p){ return xScale(p[0]).toFixed(1) + ' ' + yFn(p[1]).toFixed(1); });
  const b = lower.slice().reverse().map(function(p){ return xScale(p[0]).toFixed(1) + ' ' + yFn(p[1]).toFixed(1); });
  return 'M' + a.concat(b).join('L') + 'Z';
}
function drawLine(parent, series, yFn, color, dash){
  const attrs = {d: linePath(series, yFn), fill: 'none', stroke: color, 'stroke-width': 5.2, 'stroke-linejoin': 'round'};
  if (dash) attrs['stroke-dasharray'] = dash;
  return make(parent, 'path', attrs);
}
function drawBand(parent, upper, lower, yFn){
  return make(parent, 'path', {d: bandPath(upper, lower, yFn), fill: '#008080', 'fill-opacity': 0.2, stroke: 'none'});
}
function drawFrame(group, clipId, top, bottom, yFn, yTicks){
  const defs = make(group, 'defs', {});
  const cp = make(defs, 'clipPath', {id: clipId});
  make(cp, 'rect', {x: plotLeft, y: top, width: plotRight - plotLeft, height: bottom - top});
  const plot = make(group, 'g', {'clip-path': 'url(#' + clipId + ')'});
  
  
  nightCentres.forEach(function(d){
    const r = make(plot, 'rect', {x: xScale(d - 0.222), y: top, width: xScale(d + 0.307) - xScale(d - 0.222), height: bottom - top, fill: '#d3d3d3'});
    
    
  });
  dayTicks.forEach(function(d, i){
    const x = xScale(d);
    const t = make(group, 'line', {x1: x, x2: x, y1: bottom, y2: bottom + 11, stroke: '#000', 'stroke-width': 2.4});
    
    
    const cy = bottom + 107;
    const lab = make(group, 'text', {x: x - 4, y: cy, 'font-size': 42.5, 'text-anchor': 'middle', 'dominant-baseline': 'central', transform: 'rotate(-75 ' + (x - 4) + ' ' + cy + ')'});
    lab.textContent = dayLabels[i];
    
    
  });
  yTicks.forEach(function(v){
    const y = yFn(v);
    const t = make(group, 'line', {x1: plotLeft - 11, x2: plotLeft, y1: y, y2: y, stroke: '#000', 'stroke-width': 2.4});
    
    
    const lab = make(group, 'text', {x: plotLeft - 24, y: y, 'font-size': 43, 'text-anchor': 'end', 'dominant-baseline': 'central'});
    lab.textContent = String(v);
    
    
  });
  return plot;
}
function drawSpines(group, top, bottom){
  const s = make(group, 'rect', {x: plotLeft, y: top, width: plotRight - plotLeft, height: bottom - top, fill: 'none', stroke: '#111', 'stroke-width': 2.6});
  
  
}

const panelA = document.getElementById('panelA');
const plotA = drawFrame(panelA, 'clipA', 37, 481, yTemp, tempTicks);
const aBandU = drawBand(plotA, tempUrbanUpper, tempUrbanLower, yTemp);


const aBandT = drawBand(plotA, tempTemperateUpper, tempTemperateLower, yTemp);


const aRegional = drawLine(plotA, tempRegional, yTemp, '#000', '5.5 6');


const aTrappes = drawLine(plotA, tempTrappes, yTemp, '#000', '20 9');


const aSirta = drawLine(plotA, tempSirta, yTemp, '#000', '');


const aTemperate = drawLine(plotA, tempTemperate, yTemp, '#008080', '20 9');


const aUrban = drawLine(plotA, tempUrban, yTemp, '#008080', '');


drawSpines(panelA, 37, 481);
const aTitle = make(panelA, 'text', {x: 70, y: 255, 'font-size': 55.5, 'text-anchor': 'middle', 'dominant-baseline': 'central', transform: 'rotate(-90 70 255)'});
aTitle.textContent = 'Temperature (°C)';


const aTag = make(panelA, 'text', {x: 1769, y: 436, 'font-size': 46});
aTag.textContent = '(a)';



const panelB = document.getElementById('panelB');
const plotB = drawFrame(panelB, 'clipB', 758, 1201, yRh, rhTicks);
const bBandU = drawBand(plotB, rhUrbanUpper, rhUrbanLower, yRh);


const bBandT = drawBand(plotB, rhTemperateUpper, rhTemperateLower, yRh);


const bRegional = drawLine(plotB, rhRegional, yRh, '#000', '5.5 6');


const bTrappes = drawLine(plotB, rhTrappes, yRh, '#000', '20 9');


const bSirta = drawLine(plotB, rhSirta, yRh, '#000', '');


const bTemperate = drawLine(plotB, rhTemperate, yRh, '#008080', '20 9');


const bUrban = drawLine(plotB, rhUrban, yRh, '#008080', '');


drawSpines(panelB, 758, 1201);
const bTitle = make(panelB, 'text', {x: 40, y: 977, 'font-size': 54.5, 'text-anchor': 'middle', 'dominant-baseline': 'central', transform: 'rotate(-90 40 977)'});
bTitle.textContent = 'Relative Humidity (%)';


const bTag = make(panelB, 'text', {x: 1758, y: 1067, 'font-size': 46});
bTag.textContent = '(b)';


</script>
</body>
</html>
